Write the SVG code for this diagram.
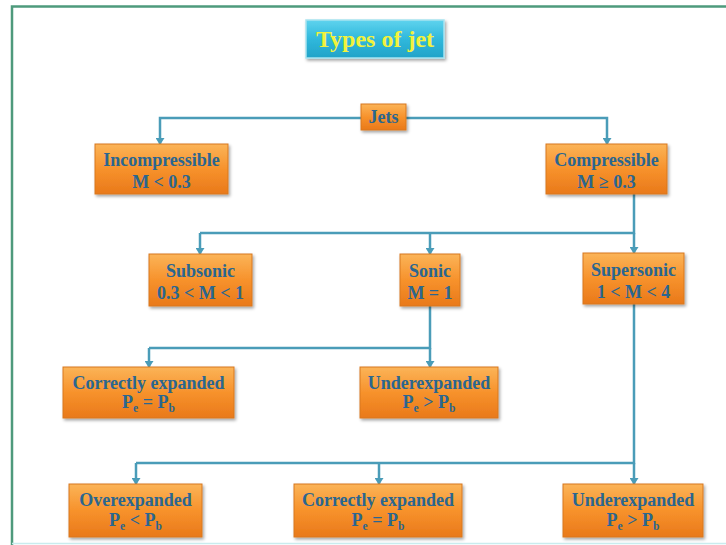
<svg xmlns="http://www.w3.org/2000/svg" width="726" height="545" viewBox="0 0 726 545">
<defs>
<linearGradient id="og" x1="0" y1="0" x2="0" y2="1">
<stop offset="0" stop-color="#fbb458"/>
<stop offset="0.5" stop-color="#f7922c"/>
<stop offset="1" stop-color="#e9791a"/>
</linearGradient>
<linearGradient id="cg" x1="0" y1="0" x2="0" y2="1">
<stop offset="0" stop-color="#5fd3ee"/>
<stop offset="0.5" stop-color="#30b8dc"/>
<stop offset="1" stop-color="#22a3c8"/>
</linearGradient>
<filter id="sh" x="-10%" y="-10%" width="125%" height="135%">
<feDropShadow dx="1.5" dy="2" stdDeviation="1.5" flood-color="#000" flood-opacity="0.35"/>
</filter>
<marker id="ad" markerWidth="9" markerHeight="9" refX="4.5" refY="8" markerUnits="userSpaceOnUse" viewBox="0 0 9 9">
<path d="M0,2 L9,2 L4.5,9 Z" fill="#4a9cb8"/>
</marker>
</defs>
<style>
.box{fill:url(#og);stroke:#d8781e;stroke-width:1;filter:url(#sh)}
.t{font-family:"Liberation Serif","Times New Roman",serif;font-weight:bold;font-size:18px;fill:#2a6690;text-anchor:middle}
.sub{font-size:11.5px}
.ln{fill:none;stroke:#4a9cb8;stroke-width:2.5}
.lna{fill:none;stroke:#4a9cb8;stroke-width:2.5;marker-end:url(#ad)}
</style>
<rect x="0" y="0" width="726" height="545" fill="#ffffff"/>
<path d="M12,545 L12,6.5 L726,6.5" fill="none" stroke="#4e9a7c" stroke-width="2.5"/>
<line x1="12" y1="543.5" x2="726" y2="543.5" stroke="#c9ecee" stroke-width="1.5"/>

<g id="title">
<rect x="306" y="20" width="138" height="38" fill="url(#cg)" stroke="#a8e3f0" stroke-width="1.5" filter="url(#sh)"/>
<text x="375" y="47" font-family="Liberation Serif, serif" font-weight="bold" font-size="24" fill="#f2f23c" text-anchor="middle">Types of jet</text>
</g>

<g id="connectors">
<path class="lna" d="M361,118 L160,118 L160,144"/>
<path class="lna" d="M406,118 L607,118 L607,144"/>
<path class="ln" d="M634,194 L634,233 L200,233"/>
<path class="lna" d="M200,233 L200,254"/>
<path class="lna" d="M430,233 L430,254"/>
<path class="lna" d="M634,233 L634,253"/>
<path class="ln" d="M430,306 L430,348 L149,348"/>
<path class="lna" d="M149,348 L149,367"/>
<path class="lna" d="M430,348 L430,367"/>
<path class="ln" d="M634,304 L634,463 L136,463"/>
<path class="lna" d="M136,463 L136,484"/>
<path class="lna" d="M379,463 L379,484"/>
<path class="lna" d="M634,463 L634,484"/>
</g>

<g id="jets">
<rect class="box" x="361" y="104" width="45" height="26"/>
<text class="t" x="383.5" y="123">Jets</text>
</g>
<g id="incompressible">
<rect class="box" x="95" y="144" width="133" height="50"/>
<text class="t" x="161.5" y="166">Incompressible</text>
<text class="t" x="161.5" y="188">M &lt; 0.3</text>
</g>
<g id="compressible">
<rect class="box" x="546" y="144" width="121" height="50"/>
<text class="t" x="606.5" y="166">Compressible</text>
<text class="t" x="606.5" y="188">M ≥ 0.3</text>
</g>
<g id="subsonic">
<rect class="box" x="149" y="254" width="103" height="52"/>
<text class="t" x="200.5" y="277">Subsonic</text>
<text class="t" x="200.5" y="299">0.3 &lt; M &lt; 1</text>
</g>
<g id="sonic">
<rect class="box" x="400" y="254" width="60" height="52"/>
<text class="t" x="430" y="277">Sonic</text>
<text class="t" x="430" y="299">M = 1</text>
</g>
<g id="supersonic">
<rect class="box" x="583" y="253" width="101" height="51"/>
<text class="t" x="633.5" y="276">Supersonic</text>
<text class="t" x="633.5" y="298">1 &lt; M &lt; 4</text>
</g>
<g id="correct1">
<rect class="box" x="63" y="367" width="171" height="51"/>
<text class="t" x="148.5" y="389">Correctly expanded</text>
<text class="t" x="148.5" y="408">P<tspan class="sub" dy="4">e</tspan><tspan dy="-4"> = P</tspan><tspan class="sub" dy="4">b</tspan></text>
</g>
<g id="under1">
<rect class="box" x="360" y="367" width="138" height="51"/>
<text class="t" x="429" y="389">Underexpanded</text>
<text class="t" x="429" y="408">P<tspan class="sub" dy="4">e</tspan><tspan dy="-4"> &gt; P</tspan><tspan class="sub" dy="4">b</tspan></text>
</g>
<g id="over2">
<rect class="box" x="69" y="484" width="133" height="53"/>
<text class="t" x="135.5" y="506">Overexpanded</text>
<text class="t" x="135.5" y="526">P<tspan class="sub" dy="4">e</tspan><tspan dy="-4"> &lt; P</tspan><tspan class="sub" dy="4">b</tspan></text>
</g>
<g id="correct2">
<rect class="box" x="294" y="484" width="168" height="53"/>
<text class="t" x="378" y="506">Correctly expanded</text>
<text class="t" x="378" y="526">P<tspan class="sub" dy="4">e</tspan><tspan dy="-4"> = P</tspan><tspan class="sub" dy="4">b</tspan></text>
</g>
<g id="under2">
<rect class="box" x="563" y="484" width="140" height="53"/>
<text class="t" x="633" y="506">Underexpanded</text>
<text class="t" x="633" y="526">P<tspan class="sub" dy="4">e</tspan><tspan dy="-4"> &gt; P</tspan><tspan class="sub" dy="4">b</tspan></text>
</g>
</svg>
